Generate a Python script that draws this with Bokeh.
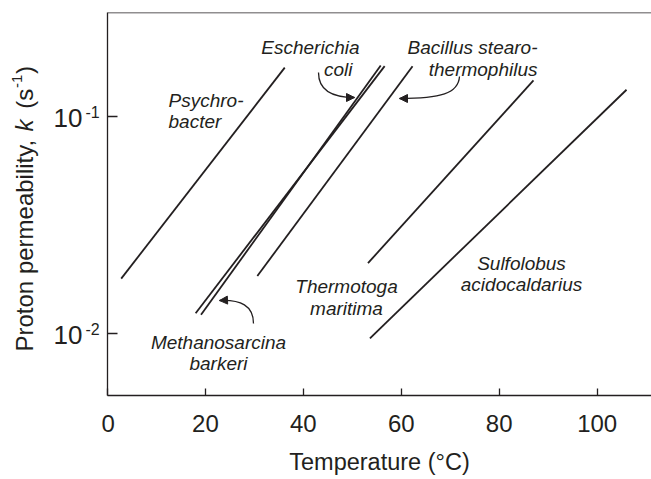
import math
from bokeh.plotting import figure
from bokeh.layouts import row
from bokeh.models import Range1d, FixedTicker, Label, Span, Arrow, NormalHead, ColumnDataSource
from bokeh.core.properties import value
from bokeh.embed import file_html
from bokeh.resources import INLINE

# ---- data ----
species = ["Psychrobacter", "Methanosarcina barkeri", "Escherichia coli",
           "Bacillus stearothermophilus", "Thermotoga maritima", "Sulfolobus acidocaldarius"]
t_start = [2.8, 18.0, 19.1, 30.6, 53.2, 53.6]
t_end = [36.2, 56.6, 55.8, 62.3, 87.0, 106.0]
k_start = [0.0179, 0.0124, 0.0122, 0.0184, 0.0211, 0.0095]
k_end = [0.168, 0.1706, 0.1718, 0.1703, 0.1466, 0.1328]

x_ticks = [0, 20, 40, 60, 80, 100]
y_ticks = [0.01, 0.1]
y_tick_exps = ["-2", "-1"]

# ---- layout (page pixels) ----
TOTAL_W, H = 651, 479
LW = 101                # width of the left label strip
MBL = 6                 # main figure left border
BT, BB = 12, 84         # top / bottom borders
FL = LW + MBL           # frame left on page
X0, X1 = 0.0, 111.1
Y0, Y1 = 0.005179, 0.3014
INK = "#231f20"
FONT = "Liberation Sans"

def dx(px):
    return X0 + (px - FL) / (TOTAL_W - FL) * (X1 - X0)

def dy(py):
    lt, lb = math.log10(Y1), math.log10(Y0)
    return 10 ** (lt - (py - BT) / (H - BB - BT) * (lt - lb))

yr = Range1d(Y0, Y1)
p = figure(width=TOTAL_W - LW, height=H, output_backend="svg", toolbar_location=None,
           y_axis_type="log", x_range=Range1d(X0, X1), y_range=yr,
           min_border_left=MBL, min_border_right=0, min_border_top=BT, min_border_bottom=BB)
p.outline_line_color = None
p.grid.visible = False

src = ColumnDataSource(dict(species=species, t0=t_start, t1=t_end, k0=k_start, k1=k_end))
p.segment(x0="t0", y0="k0", x1="t1", y1="k1", source=src, line_color=INK, line_width=1.8)

for ax in (p.xaxis, p.yaxis):
    ax.axis_line_color = INK
    ax.axis_line_width = 1.3
    ax.major_tick_line_color = INK
    ax.major_tick_line_width = 1.3
    ax.major_tick_out = 0
    ax.minor_tick_line_color = None
p.xaxis.ticker = FixedTicker(ticks=x_ticks)
p.xaxis.major_tick_in = 7
p.xaxis.major_label_text_font = FONT
p.xaxis.major_label_text_font_size = "24px"
p.xaxis.major_label_text_color = INK
p.xaxis.major_label_standoff = 19
p.xaxis.axis_label = "Temperature (°C)"
p.xaxis.axis_label_text_font = FONT
p.xaxis.axis_label_text_font_size = "23.5px"
p.xaxis.axis_label_text_font_style = "normal"
p.xaxis.axis_label_text_color = INK
p.xaxis.axis_label_standoff = 14

p.yaxis.ticker = FixedTicker(ticks=y_ticks)
p.yaxis.major_tick_in = 10
p.yaxis.major_label_text_font_size = "0px"
p.yaxis.major_label_text_color = None

p.add_layout(Span(location=Y1, dimension="width", line_color=INK, line_width=1.3))

# ---- left strip: y tick labels and y-axis title ----
q = figure(width=LW, height=H, output_backend="svg", toolbar_location=None,
           y_axis_type="log", x_range=Range1d(0, LW), y_range=yr,
           x_axis_location=None, y_axis_location=None,
           min_border_left=0, min_border_right=0, min_border_top=BT, min_border_bottom=BB)
q.outline_line_color = None
q.grid.visible = False

def qtext(xs, ys, texts, size, align="left", style="normal", angle=0.0, yoff=0):
    q.text(x=xs, y=ys, text=texts, text_font=value(FONT), text_font_size=value(f"{size}px"),
           text_font_style=style, text_color=INK, text_align=align,
           text_baseline="middle", angle=angle, y_offset=yoff)

qtext([82] * len(y_ticks), y_ticks, ["10"] * len(y_ticks), 26, align="right", yoff=2)
qtext([85] * len(y_ticks), y_ticks, y_tick_exps, 16, align="left", yoff=-4)

A = math.pi / 2
qtext([24], [dy(351)], ["Proton permeability,"], 24, angle=A)
qtext([24], [dy(130.9)], ["k"], 24, style="italic", angle=A)
qtext([24], [dy(108.2)], ["(s"], 24, angle=A)
qtext([16], [dy(87.5)], ["-1"], 15, angle=A)
qtext([24], [dy(73.5)], [")"], 24, angle=A)

# ---- species labels ----
def lab(text, x, y, align="left"):
    p.add_layout(Label(x=x, y=y, text=text, text_font=FONT, text_font_size="19px",
                       text_font_style="italic", text_color=INK, text_align=align,
                       text_baseline="alphabetic"))

lab("Psychro-", dx(168), dy(100))
lab("bacter", dx(168), dy(121))
lab("Escherichia", dx(359), dy(47), "right")
lab("coli", dx(352), dy(69), "right")
lab("Bacillus stearo-", dx(537), dy(47), "right")
lab("thermophilus", dx(537), dy(69), "right")
lab("Thermotoga", dx(346), dy(286), "center")
lab("maritima", dx(346), dy(308), "center")
lab("Sulfolobus", dx(521), dy(263), "center")
lab("acidocaldarius", dx(521), dy(284), "center")
lab("Methanosarcina", dx(218), dy(342), "center")
lab("barkeri", dx(218), dy(363), "center")

# ---- curved arrows (page-pixel control points) ----
arrows = [
    [(318, 72), (318, 88), (330, 97), (354, 97)],
    [(459, 76), (458, 93), (440, 98), (399, 98)],
    [(253, 323), (253, 305), (240, 299), (219, 300)],
]
for P0, P1, P2, P3 in arrows:
    p.bezier(x0=[dx(P0[0])], y0=[dy(P0[1])], x1=[dx(P3[0])], y1=[dy(P3[1])],
             cx0=[dx(P1[0])], cy0=[dy(P1[1])], cx1=[dx(P2[0])], cy1=[dy(P2[1])],
             line_color=INK, line_width=1.3)
    vx, vy = P3[0] - P2[0], P3[1] - P2[1]
    n = math.hypot(vx, vy)
    sx, sy = P3[0] - 3 * vx / n, P3[1] - 3 * vy / n
    p.add_layout(Arrow(x_start=dx(sx), y_start=dy(sy), x_end=dx(P3[0]), y_end=dy(P3[1]),
                       line_color=INK, line_width=1.3,
                       end=NormalHead(size=8, fill_color=INK, line_color=INK, line_width=1)))

layout = row(q, p, spacing=0)
open("out.html", "w").write(file_html(layout, INLINE))
